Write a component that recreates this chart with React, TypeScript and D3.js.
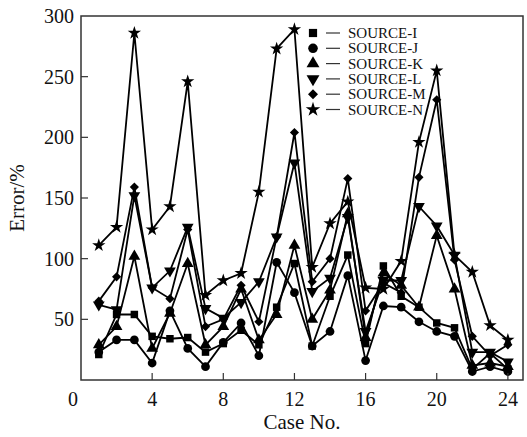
import React from 'react';
import * as d3 from 'd3';

const cases = d3.range(1, 25);

const sourceI = [21, 54, 54, 36, 34, 35, 23, 30, 41, 29, 60, 96, 28, 69, 103, 30, 94, 69, 60, 47, 43, 9, 22, 9];
const sourceJ = [23, 33, 33, 14, 57, 26, 11, 31, 47, 20, 97, 72, 28, 40, 86, 16, 61, 60, 48, 40, 36, 7, 11, 7];
const sourceK = [29, 44, 102, 26, 55, 96, 29, 44, 75, 33, 54, 111, 50, 74, 137, 35, 88, 78, 60, 119, 75, 12, 14, 11];
const sourceL = [62, 58, 152, 76, 90, 126, 59, 51, 64, 81, 118, 179, 73, 84, 134, 40, 82, 82, 143, 127, 103, 23, 23, 15];
const sourceM = [65, 85, 159, 76, 67, 124, 44, 50, 78, 48, 118, 204, 81, 100, 166, 57, 80, 72, 167, 231, 99, 36, 20, 29];
const sourceN = [111, 126, 286, 124, 143, 246, 70, 82, 88, 155, 273, 289, 93, 129, 147, 76, 75, 98, 196, 255, 103, 89, 45, 33];

const seriesNames = ['SOURCE-I', 'SOURCE-J', 'SOURCE-K', 'SOURCE-L', 'SOURCE-M', 'SOURCE-N'];
const seriesValues = [sourceI, sourceJ, sourceK, sourceL, sourceM, sourceN];

const xTicks = [0, 4, 8, 12, 16, 20, 24];
const yTicks = [50, 100, 150, 200, 250, 300];

const W = 527;
const H = 437;
const left = 81;
const right = 523;
const top = 16;
const bottom = 380;

const font = '"Liberation Serif", "Times New Roman", serif';

const symbolFor = (i: number, k = 1) => {
  // square, circle, triangle, down triangle, diamond, star
  const types = [d3.symbolSquare, d3.symbolCircle, d3.symbolTriangle, d3.symbolTriangle, d3.symbolSquare, d3.symbolStar];
  const sizes = [56, 60, 60, 60, 42, 55];
  const rot = [0, 0, 0, 180, 45, 0];
  return { d: d3.symbol().type(types[i]).size(sizes[i] * k)() as string, rot: rot[i] };
};

const App = () => {
  const x = d3.scaleLinear().domain([0, 24.85]).range([left, right]);
  const y = d3.scaleLinear().domain([0, 300]).range([bottom, top]);

  const line = d3
    .line<number>()
    .x((_, i) => x(cases[i]))
    .y(v => y(v));

  return (
    <svg width={W} height={H} style={{ position: 'absolute', left: 0, top: 0, background: '#fff' }}>
      <rect x={0} y={0} width={W} height={H} fill="#fff" />

      {seriesValues.map((vals, si) => (
        <path key={'l' + si} d={line(vals) as string} fill="none" stroke="#000" strokeWidth={1.8} strokeLinejoin="miter" />
      ))}
      {seriesValues.map((vals, si) => {
        const s = symbolFor(si);
        return (
          <g key={'m' + si}>
            {vals.map((v, i) => (
              <path
                key={i}
                d={s.d}
                fill="#000"
                transform={`translate(${x(cases[i])},${y(v)}) rotate(${s.rot})`}
              />
            ))}
          </g>
        );
      })}

      {/* frame */}
      <rect x={left} y={top} width={right - left} height={bottom - top} fill="none" stroke="#333" strokeWidth={1.5} />

      {/* x ticks */}
      {xTicks.map(t => (
        <g key={'xt' + t}>
          {t > 0 && <line x1={x(t)} x2={x(t)} y1={bottom} y2={bottom - 7} stroke="#333" strokeWidth={1.2} />}
          <text
            x={t === 0 ? left - 8 : x(t)}
            y={bottom + 26}
            textAnchor="middle"
            fontFamily={font}
            fontSize={20}
            fill="#111"
          >
            {t}
          </text>
        </g>
      ))}

      {/* y ticks */}
      {yTicks.map(t => (
        <g key={'yt' + t}>
          {t < 300 && <line x1={left} x2={left + 7} y1={y(t)} y2={y(t)} stroke="#333" strokeWidth={1.2} />}
          <text x={left - 7} y={y(t) + 7} textAnchor="end" fontFamily={font} fontSize={20} fill="#111">
            {t}
          </text>
        </g>
      ))}

      <text x={(left + right) / 2} y={H - 8} textAnchor="middle" fontFamily={font} fontSize={21} fill="#111">
        Case No.
      </text>
      <text
        transform={`translate(24,${(top + bottom) / 2}) rotate(-90)`}
        textAnchor="middle"
        fontFamily={font}
        fontSize={21}
        fill="#111"
      >
        Error/%
      </text>

      {/* legend */}
      {seriesNames.map((name, i) => {
        const s = symbolFor(i, 1.2);
        const cy = 33 + i * 15.3;
        return (
          <g key={'lg' + i}>
            <path d={s.d} fill="#000" transform={`translate(313,${cy}) rotate(${s.rot})`} />
            <line x1={326} x2={340} y1={cy} y2={cy} stroke="#333" strokeWidth={1.2} />
            <text x={348} y={cy + 5} fontFamily={font} fontSize={15} fill="#111">
              {name}
            </text>
          </g>
        );
      })}
    </svg>
  );
};

export default App;
